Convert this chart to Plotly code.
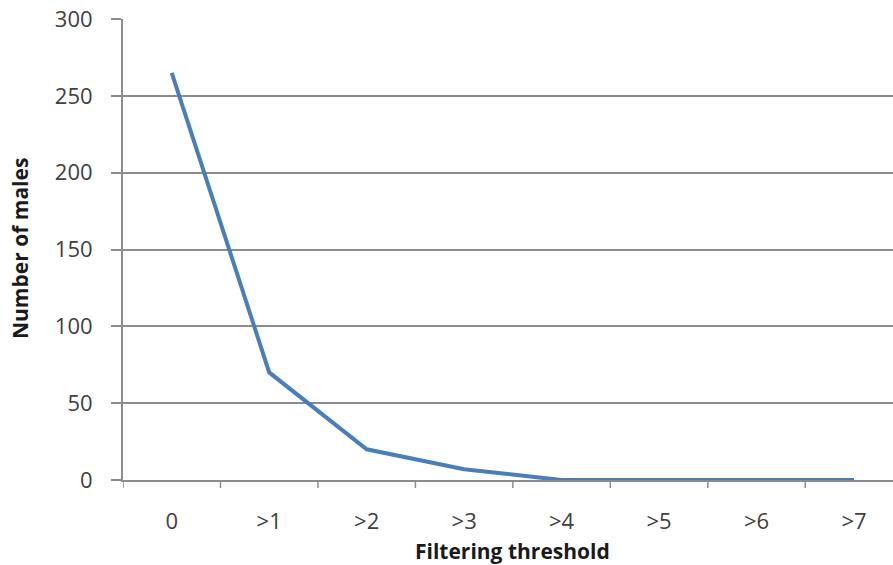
import plotly.graph_objects as go

categories = ["0", ">1", ">2", ">3", ">4", ">5", ">6", ">7"]
males = [265, 70, 20, 7, 0, 0, 0, 0]
y_ticks = [0, 50, 100, 150, 200, 250, 300]

FONT = "Open Sans"
L, T, B = 123, 19, 480
W, H = 893, 565
PW, PH = W - L, B - T

fig = go.Figure()
fig.add_trace(go.Scatter(
    x=list(range(len(categories))), y=males, mode="lines",
    line=dict(color="#4a7ebb", width=4),
    showlegend=False, hoverinfo="skip",
))

fig.update_layout(
    width=W, height=H,
    margin=dict(l=L, r=0, t=T, b=H - B),
    paper_bgcolor="white", plot_bgcolor="white",
    font=dict(family=FONT, color="#404040"),
    xaxis=dict(
        range=[-0.5, 7.4],
        tickmode="array",
        tickvals=list(range(len(categories))),
        ticktext=categories,
        showgrid=False,
        zeroline=False,
        showline=True, linecolor="#8c8c8c", linewidth=2,
        ticks="",
        tickfont=dict(size=22, family=FONT, color="#404040"),
        ticklabelstandoff=21,
    ),
    yaxis=dict(
        range=[0, 300],
        tickmode="array", tickvals=y_ticks,
        showgrid=True, gridcolor="#8c8c8c", gridwidth=1.5,
        zeroline=False,
        showline=True, linecolor="#8c8c8c", linewidth=2,
        ticks="outside", ticklen=10, tickcolor="#8c8c8c", tickwidth=1.5,
        tickfont=dict(size=22, family=FONT, color="#404040"),
        ticklabelstandoff=14,
    ),
)

# x tick marks at category boundaries
for b in range(0, 8):
    fig.add_shape(type="line", xref="x", yref="paper",
                  x0=b - 0.5, x1=b - 0.5, y0=0, y1=-8 / PH,
                  line=dict(color="#8c8c8c", width=1.5))

fig.add_annotation(
    x=3.5, xref="x", y=-(551 - B) / PH, yref="paper", yanchor="middle",
    text="<b>Filtering threshold</b>", showarrow=False,
    font=dict(size=21, family=FONT, color="#1a1a1a"),
)
fig.add_annotation(
    x=(20 - L) / PW, xref="paper", xanchor="center",
    y=(B - 249) / PH, yref="paper", yanchor="middle",
    text="<b>Number of males</b>", textangle=-90, showarrow=False,
    font=dict(size=21, family=FONT, color="#1a1a1a"),
)

fig.write_html("out.html")
